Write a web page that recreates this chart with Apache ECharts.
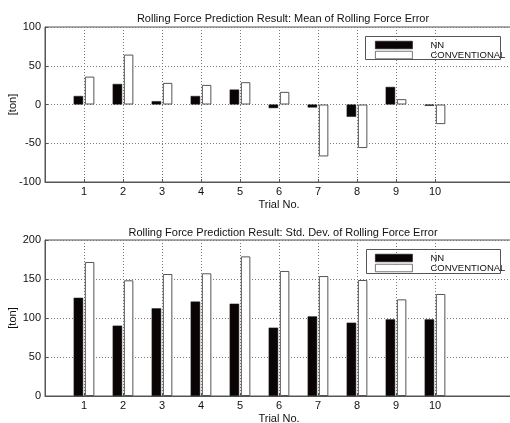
<!DOCTYPE html>
<html><head><meta charset="utf-8">
<script src="https://cdn.jsdelivr.net/npm/echarts@6/dist/echarts.min.js"></script>
<style>html,body{margin:0;padding:0;background:#fff;}#c{width:510px;height:423px;}</style>
</head><body><div id="c"></div>
<script>
// categories 0..12 (only 1..10 carry data / labels)
const categories = ['0','1','2','3','4','5','6','7','8','9','10','11','12'];
const meanNN   = [null, 11, 26.5, 4.3, 11, 19.3, -4.7, -3.9, -15.9, 22.7, -1.7, null, null];
const meanConv = [null, 36, 64.4, 27.9, 25.3, 28.8, 16.3, -67, -56.2, 6.9, -25.3, null, null];
const stdNN    = [null, 126, 90.2, 112.4, 121, 118.4, 87.6, 102.1, 94, 98.3, 98.3, null, null];
const stdConv  = [null, 171.8, 148.3, 156.4, 157.3, 179, 160.3, 153.8, 148.7, 123.9, 130.8, null, null];
const meanTicks = [-100, 50];   // min, interval
const stdTicks = [0, 50];

const FONT = 'Liberation Sans, Arial, sans-serif';
const chart = echarts.init(document.getElementById('c'));
const showIdx = (i) => i >= 1 && i <= 10;

function xAxisDef(gi) {
  return {
    gridIndex: gi, type: 'category', data: categories, boundaryGap: false,
    name: 'Trial No.', nameLocation: 'middle', nameGap: 17, nameMoveOverlap: false,
    nameTextStyle: {fontFamily: FONT, fontSize: 11, color: '#111'},
    axisLine: {onZero: false, lineStyle: {color: '#555', width: 1}},
    axisTick: {inside: true, length: 3, interval: (i) => showIdx(i), lineStyle: {color: '#555'}},
    axisLabel: {interval: (i) => showIdx(i), margin: 4, fontFamily: FONT, fontSize: 11, color: '#111'},
    splitLine: {show: true, interval: (i) => showIdx(i), lineStyle: {type: [1, 2], color: '#777', width: 1}}
  };
}
function yAxisDef(gi, ticks, max) {
  return {
    gridIndex: gi, type: 'value', min: ticks[0], max: max, interval: ticks[1],
    name: '[ton]', nameLocation: 'middle', nameGap: 27, nameRotate: 90, nameMoveOverlap: false,
    nameTextStyle: {fontFamily: FONT, fontSize: 11, color: '#111'},
    axisLine: {show: true, lineStyle: {color: '#555', width: 1}},
    axisTick: {show: true, inside: true, length: 3, lineStyle: {color: '#555'}},
    axisLabel: {margin: 4, fontFamily: FONT, fontSize: 11, color: '#111'},
    splitLine: {show: true, lineStyle: {type: [1, 2], color: '#777', width: 1}}
  };
}
function barPair(gi, nn, conv) {
  return [
    {type: 'bar', name: 'NN', xAxisIndex: gi, yAxisIndex: gi, data: nn, barWidth: 9.5, barGap: '18%',
     itemStyle: {color: '#0a0404', borderColor: '#222', borderWidth: 0.5}, silent: true},
    {type: 'bar', name: 'CONVENTIONAL', xAxisIndex: gi, yAxisIndex: gi, data: conv, barWidth: 9.5, barGap: '18%',
     itemStyle: {color: '#ffffff', borderColor: '#555', borderWidth: 1}, silent: true}
  ];
}
function legendDef(top) {
  return {
    orient: 'vertical', left: 375, top: top, itemWidth: 37, itemHeight: 7.5, itemGap: 0, padding: 0,
    icon: 'rect', selectedMode: false,
    data: ['NN', 'CONVENTIONAL'],
    itemStyle: {borderWidth: 0.8},
    textStyle: {fontFamily: FONT, fontSize: 9.5, lineHeight: 7.5, color: '#111', padding: [0, 0, 0, 13]}
  };
}

chart.setOption({
  animation: false,
  backgroundColor: '#fff',
  title: [
    {text: 'Rolling Force Prediction Result: Mean of Rolling Force Error', left: 278, textAlign: 'center', top: 8,
     textStyle: {fontFamily: FONT, fontSize: 11, fontWeight: 'normal', color: '#111'}},
    {text: 'Rolling Force Prediction Result: Std. Dev. of Rolling Force Error', left: 278, textAlign: 'center', top: 222,
     textStyle: {fontFamily: FONT, fontSize: 11, fontWeight: 'normal', color: '#111'}}
  ],
  grid: [
    {left: 45, top: 27, width: 468, height: 155, show: true, borderColor: '#555', borderWidth: 1, backgroundColor: '#fff',
     containLabel: false, outerBoundsMode: 'none'},
    {left: 45, top: 240, width: 468, height: 156, show: true, borderColor: '#555', borderWidth: 1, backgroundColor: '#fff',
     containLabel: false, outerBoundsMode: 'none'}
  ],
  xAxis: [xAxisDef(0), xAxisDef(1)],
  yAxis: [yAxisDef(0, meanTicks, 100), yAxisDef(1, stdTicks, 200)],
  legend: [legendDef(40), legendDef(253)],
  series: [...barPair(0, meanNN, meanConv), ...barPair(1, stdNN, stdConv)],
  graphic: [
    {type: 'rect', shape: {x: 365.5, y: 36.5, width: 135, height: 23}, style: {fill: null, stroke: '#555', lineWidth: 1}, z: 100},
    {type: 'rect', shape: {x: 366.5, y: 249.5, width: 134, height: 24}, style: {fill: null, stroke: '#555', lineWidth: 1}, z: 100}
  ]
});
</script></body></html>
